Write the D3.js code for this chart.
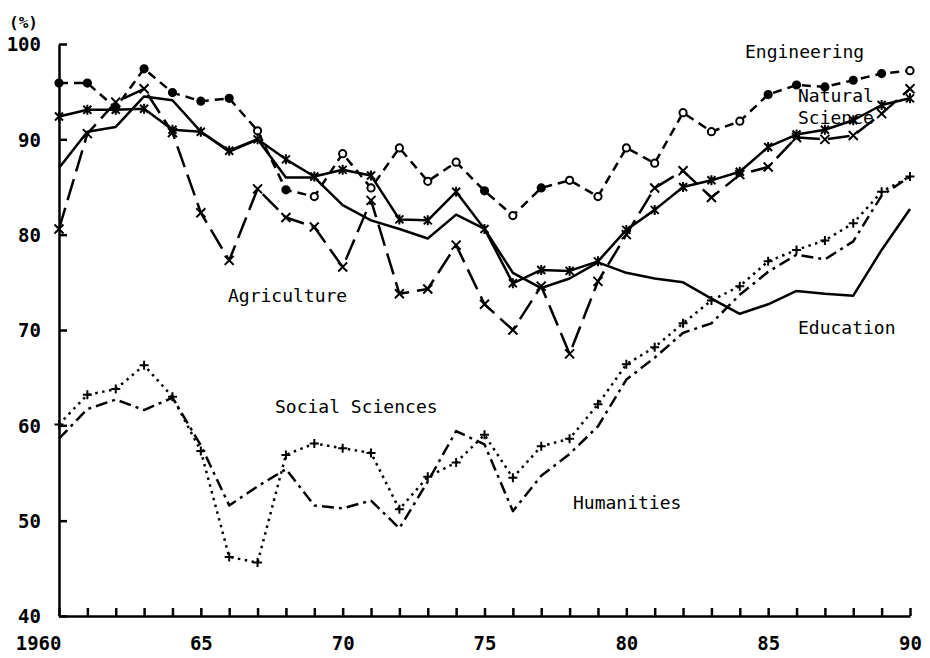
<!DOCTYPE html>
<meta charset="utf-8">
<head>

<style>
body {
  margin: 0;
  background: #fff;
  font-family: "DejaVu Sans Mono", monospace;
}
.axis path,
.axis line {
  stroke: #000;
  stroke-width: 2.5px;
  fill: none;
}
.axis text {
  font-family: "DejaVu Sans Mono", monospace;
  font-size: 19px;
  font-weight: bold;
  fill: #000;
}
.series {
  fill: none;
  stroke: #000;
  stroke-width: 2.5px;
  stroke-linejoin: round;
}
.marker {
  stroke: #000;
  stroke-width: 2px;
}
.label {
  font-family: "DejaVu Sans Mono", monospace;
  font-size: 18px;
  fill: #000;
}
</style>

<script src="https://d3js.org/d3.v7.min.js"></script>

</head>
<body>

<div id="chart"></div>

<script>

// years 1960 .. 1990
var years = d3.range(1960, 1991);

var engineering = [95.9, 95.9, 93.3, 97.4, 94.9, 94.0, 94.3, 90.9, 84.7, 84.0,
                   88.5, 84.9, 89.1, 85.6, 87.6, 84.6, 82.0, 84.9, 85.7, 84.0,
                   89.1, 87.5, 92.8, 90.8, 91.9, 94.7, 95.7, 95.5, 96.2, 96.9, 97.2];
// years where the engineering marker is an open circle
var engOpen = [1967, 1969, 1970, 1971, 1972, 1973, 1974, 1976, 1978, 1979,
               1980, 1981, 1982, 1983, 1984, 1990];

var naturalScience = [92.4, 93.1, 93.1, 93.2, 91.0, 90.8, 88.8, 90.0, 87.9, 86.1,
                      86.8, 86.2, 81.6, 81.5, 84.5, 80.6, 74.9, 76.3, 76.2, 77.2,
                      80.5, 82.6, 85.0, 85.7, 86.6, 89.2, 90.5, 91.0, 92.0, 93.6, 94.3];

var agriculture = [80.6, 90.6, 93.9, 95.3, 90.7, 82.3, 77.3, 84.8, 81.8, 80.8,
                   76.6, 83.6, 73.8, 74.3, 78.9, 72.7, 70.0, 74.6, 67.5, 75.1,
                   80.0, 84.9, 86.7, 83.9, 86.3, 87.1, 90.2, 90.0, 90.4, 92.7, 95.3];

var education = [87.0, 90.8, 91.3, 94.5, 94.1, 90.8, 88.7, 90.0, 86.0, 86.0,
                 83.1, 81.5, 80.6, 79.6, 82.1, 80.6, 76.0, 74.4, 75.4, 77.1,
                 76.0, 75.4, 75.0, 73.3, 71.7, 72.7, 74.1, 73.8, 73.6, 78.4, 82.7];

var socialSciences = [60.1, 63.2, 63.8, 66.3, 63.0, 57.3, 46.2, 45.6, 56.9, 58.1,
                      57.6, 57.1, 51.2, 54.6, 56.1, 59.0, 54.5, 57.8, 58.6, 62.2,
                      66.4, 68.2, 70.7, 73.1, 74.6, 77.2, 78.4, 79.4, 81.2, 84.5, 86.1];

var humanities = [58.6, 61.7, 62.7, 61.6, 62.9, 57.9, 51.6, 53.6, 55.4, 51.6,
                  51.3, 52.1, 49.2, 54.1, 59.4, 58.0, 51.0, 54.7, 57.0, 59.9,
                  64.8, 67.1, 69.7, 70.7, 73.7, 76.1, 77.9, 77.4, 79.3, 84.1, 86.1];

var yTicks = [40, 50, 60, 70, 80, 90, 100];


var width = 930,
  height = 658;

var svg = d3.select("#chart").append("svg")
  .attr("width", width)
  .attr("height", height);

var x = d3.scaleLinear()
  .domain([1960, 1990])
  .range([59, 910]);

var y = d3.scaleLinear()
  .domain([40, 100])
  .range([616, 44]);


//// axes, ticks pointing inside the plot
svg.append("g")
  .attr("class", "axis")
  .attr("transform", "translate(" + x(1960) + ",0)")
  .call(d3.axisLeft(y).tickValues(yTicks).tickSizeInner(-8).tickSizeOuter(0).tickPadding(18))
  .call(function(g) { g.selectAll("text").attr("dy", "0.36em"); });

svg.append("g")
  .attr("class", "axis")
  .attr("transform", "translate(0," + y(40) + ")")
  .call(d3.axisBottom(x)
    .tickValues(years)
    .tickSizeInner(-8)
    .tickSizeOuter(0)
    .tickPadding(21)
    .tickFormat(function(d) {
      if (d == 1960) return "1960";
      return d % 5 == 0 ? String(d).slice(2) : "";
    }))
  .call(function(g) {
    g.selectAll(".tick").filter(function(d) { return d == 1960; })
      .select("text").attr("text-anchor", "end").attr("x", 2);
  });

svg.append("text")
  .attr("x", 9)
  .attr("y", 28)
  .style("font-size", "16px")
  .style("font-weight", "bold")
  .text("(%)");


//// series
var series = [
  {name: "Engineering", values: engineering, dash: "9,6", marker: "circle"},
  {name: "Natural Science", values: naturalScience, dash: null, marker: "star"},
  {name: "Agriculture", values: agriculture, dash: "22,8", marker: "x"},
  {name: "Education", values: education, dash: null, marker: null},
  {name: "Social Sciences", values: socialSciences, dash: "2.5,4.5", marker: "plus"},
  {name: "Humanities", values: humanities, dash: "12,5,3,5", marker: null}
];

var line = d3.line()
  .x(function(d, i) { return x(years[i]); })
  .y(function(d) { return y(d); });

svg.selectAll("paths")
  .data(series)
  .enter()
  .append("path")
    .attr("class", "series")
    .attr("d", function(d) { return line(d.values); })
    .attr("stroke-dasharray", function(d) { return d.dash; });


var symbols = {
  x: "M-4.5,-4.5L4.5,4.5M-4.5,4.5L4.5,-4.5",
  plus: "M-4.5,0H4.5M0,-4.5V4.5",
  star: "M-4,-4L4,4M-4,4L4,-4M0,-5V5"
};

series.forEach(function(s) {
  if (!s.marker) return;
  var pts = svg.append("g").selectAll("marks")
    .data(s.values.map(function(v, i) { return {year: years[i], value: v}; }))
    .enter();

  if (s.marker == "circle") {
    pts.append("circle")
      .attr("class", "marker")
      .attr("cx", function(d) { return x(d.year); })
      .attr("cy", function(d) { return y(d.value); })
      .attr("r", 3.6)
      .attr("fill", function(d) { return engOpen.indexOf(d.year) >= 0 ? "#fff" : "#000"; });
  } else {
    pts.append("path")
      .attr("class", "marker")
      .attr("fill", "none")
      .attr("transform", function(d) { return "translate(" + x(d.year) + "," + y(d.value) + ")"; })
      .attr("d", symbols[s.marker]);
  }
});


//// line labels
var labels = [
  {text: "Engineering", x: 745, y: 58},
  {text: "Natural", x: 798, y: 102},
  {text: "Science", x: 798, y: 124},
  {text: "Agriculture", x: 228, y: 302},
  {text: "Education", x: 798, y: 334},
  {text: "Social Sciences", x: 275, y: 413},
  {text: "Humanities", x: 573, y: 509}
];

svg.selectAll("labels")
  .data(labels)
  .enter()
  .append("text")
    .attr("class", "label")
    .attr("x", function(d) { return d.x; })
    .attr("y", function(d) { return d.y; })
    .text(function(d) { return d.text; });

</script>

</body>
</html>
